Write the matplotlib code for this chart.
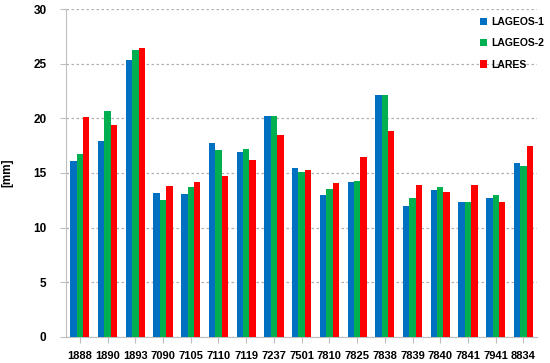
import matplotlib.pyplot as plt
import numpy as np

stations = ['1888', '1890', '1893', '7090', '7105', '7110', '7119', '7237', '7501',
            '7810', '7825', '7838', '7839', '7840', '7841', '7941', '8834']
lageos1 = [16.1, 17.9, 25.3, 13.2, 13.1, 17.7, 16.9, 20.2, 15.5,
           13.0, 14.2, 22.1, 12.0, 13.4, 12.3, 12.7, 15.9]
lageos2 = [16.7, 20.7, 26.3, 12.5, 13.7, 17.1, 17.2, 20.2, 15.1,
           13.5, 14.3, 22.1, 12.7, 13.7, 12.3, 13.0, 15.6]
lares = [20.1, 19.4, 26.4, 13.8, 14.2, 14.7, 16.2, 18.5, 15.3,
         14.1, 16.5, 18.8, 13.9, 13.3, 13.9, 12.3, 17.5]

plt.rcParams['font.family'] = ['Liberation Sans', 'DejaVu Sans']

fig = plt.figure(figsize=(5.5, 3.63), dpi=100)
ax = fig.add_axes([0.12, 0.072, 0.857, 0.903])

x = np.arange(len(stations))
w = 0.23
ax.bar(x - w, lageos1, w, color='#0070C0', label='LAGEOS-1', zorder=3)
ax.bar(x, lageos2, w, color='#00B050', label='LAGEOS-2', zorder=3)
ax.bar(x + w, lares, w, color='#FF0000', label='LARES', zorder=3)

ax.set_xlim(-0.5, len(stations) - 0.5)
ax.set_ylim(0, 30)
ax.set_yticks(range(0, 31, 5))
ax.set_xticks(x)
ax.set_xticklabels(stations)
ax.yaxis.grid(True, linestyle=(0, (2, 2)), color='#b0b0b0', linewidth=0.9, zorder=0)

for s in ['top', 'right']:
    ax.spines[s].set_visible(False)
ax.spines['left'].set_color('#bfbfbf')
ax.spines['bottom'].set_color('#bfbfbf')
ax.tick_params(axis='y', length=4, color='#bfbfbf', labelsize=8.5, pad=10)
ax.tick_params(axis='x', length=4, color='#bfbfbf', labelsize=8, pad=6)
for lbl in ax.get_xticklabels() + ax.get_yticklabels():
    lbl.set_fontweight('bold')

ax.set_ylabel('[mm]', fontsize=8.5, fontweight='bold')
ax.yaxis.set_label_coords(-0.112, 0.5)

leg = ax.legend(loc='upper right', bbox_to_anchor=(1.035, 1.005), frameon=False,
                handlelength=0.7, handleheight=0.7, handletextpad=0.4,
                labelspacing=1.1, prop={'weight': 'bold', 'size': 7.5})

plt.savefig('out.png', dpi=100)
